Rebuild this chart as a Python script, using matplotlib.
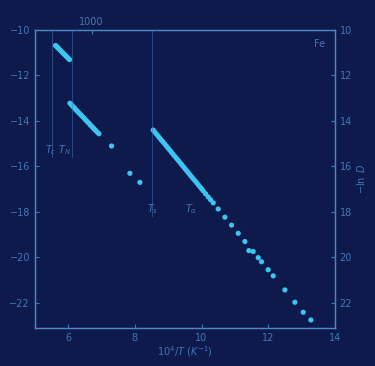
import matplotlib
matplotlib.use("Agg")
import matplotlib.pyplot as plt

# data (x = 10^4/T, y = ln value)
xa = [5.62, 5.65, 5.68, 5.71, 5.74, 5.77, 5.80, 5.83, 5.86, 5.89, 5.92, 5.95,
      5.98, 6.01, 6.04]
ya = [-10.68, -10.72, -10.77, -10.81, -10.86, -10.90, -10.95, -10.99, -11.04,
      -11.08, -11.12, -11.17, -11.21, -11.26, -11.30]

xb = [6.05, 6.09, 6.12, 6.16, 6.20, 6.24, 6.28, 6.32, 6.36, 6.40, 6.44, 6.48,
      6.52, 6.56, 6.60, 6.64, 6.68, 6.72, 6.76, 6.80, 6.84, 6.88, 6.92,
      7.30, 7.85, 8.15]
yb = [-13.22, -13.27, -13.33, -13.39, -13.45, -13.52, -13.58, -13.64, -13.70,
      -13.76, -13.82, -13.88, -13.95, -14.01, -14.07, -14.13, -14.20, -14.26,
      -14.32, -14.38, -14.44, -14.50, -14.56, -15.10, -16.30, -16.70]

xc = [8.55, 8.60, 8.65, 8.70, 8.75, 8.80, 8.85, 8.90, 8.95, 9.00, 9.05, 9.10,
      9.15, 9.20, 9.25, 9.30, 9.35, 9.40, 9.45, 9.50, 9.55, 9.60, 9.65, 9.70,
      9.75, 9.80, 9.85, 9.90, 9.95, 10.00, 10.05, 10.12, 10.20, 10.27, 10.35,
      10.50, 10.70, 10.90, 11.10, 11.30, 11.42, 11.55, 11.70, 11.80, 12.00,
      12.15, 12.50, 12.80, 13.05, 13.28]
yc = [-14.40, -14.49, -14.58, -14.67, -14.76, -14.85, -14.93, -15.02, -15.11,
      -15.20, -15.29, -15.38, -15.47, -15.56, -15.65, -15.73, -15.82, -15.91,
      -16.00, -16.09, -16.18, -16.27, -16.36, -16.45, -16.54, -16.62, -16.71,
      -16.80, -16.89, -16.98, -17.07, -17.20, -17.34, -17.46, -17.60, -17.87,
      -18.23, -18.58, -18.94, -19.30, -19.70, -19.74, -20.01, -20.19, -20.54,
      -20.81, -21.43, -21.97, -22.41, -22.75]

transitions = [5.51, 6.11, 8.52]
trans_bottom = [-15.6, -15.6, -18.2]

left_ticks = [-10, -12, -14, -16, -18, -20, -22]
right_ticks = [10, 12, 14, 16, 18, 20, 22]
x_ticks = [6, 8, 10, 12, 14]

bg = "#0f1a4c"
fg = "#3f78b6"
spine = "#4d86c4"
pt = "#3cc4f2"

fig = plt.figure(figsize=(3.75, 3.66), dpi=100, facecolor=bg)
ax = fig.add_axes([0.093, 0.104, 0.8, 0.814], facecolor=bg)

for xv, yb_ in zip(transitions, trans_bottom):
    ax.plot([xv, xv], [-10, yb_], color=fg, lw=0.6, alpha=0.6)

ax.scatter(xa, ya, s=14, color=pt, edgecolors="none")
ax.scatter(xb, yb, s=14, color=pt, edgecolors="none")
ax.scatter(xc, yc, s=14, color=pt, edgecolors="none")

ax.set_xlim(5, 14)
ax.set_ylim(-23.1, -10)
ax.set_xticks(x_ticks)
ax.set_yticks(left_ticks)
ax.tick_params(colors=fg, labelsize=7, direction="in", length=3)
for s in ax.spines.values():
    s.set_color(spine)
    s.set_linewidth(1.0)
ax.set_xlabel("$10^4/T\\ (K^{-1})$", color=fg, fontsize=7, labelpad=1)

ax2 = ax.twinx()
ax2.set_ylim(23.1, 10)
ax2.set_yticks(right_ticks)
ax2.tick_params(colors=fg, labelsize=7, direction="in", length=3)
for s in ax2.spines.values():
    s.set_color(spine)
ax2.set_ylabel("$-\\ln\\ D$", color=fg, fontsize=7, labelpad=2)

top = ax.secondary_xaxis("top")
top.set_xticks([6.7])
top.set_xticklabels(["1000"])
top.tick_params(colors=fg, labelsize=7, direction="in", length=3, pad=2)

ax.text(5.3, -15.4, "$T_c\\ T_N$", color=fg, fontsize=7)
ax.text(8.35, -18.0, "$T_s$", color=fg, fontsize=7)
ax.text(9.5, -18.0, "$T_\\alpha$", color=fg, fontsize=7)
ax.text(13.7, -10.75, "Fe", color=fg, fontsize=7, ha="right")

fig.savefig("out.png", dpi=100, facecolor=bg)
